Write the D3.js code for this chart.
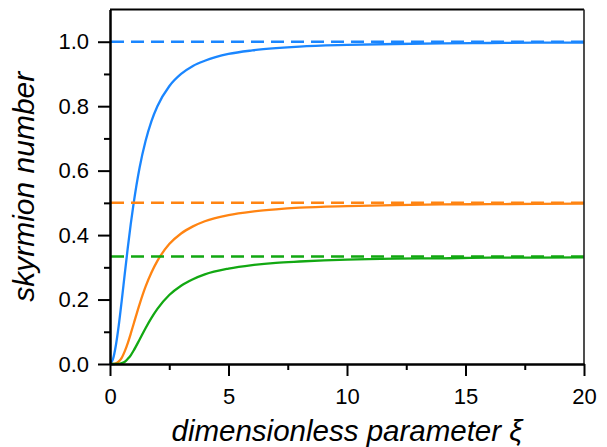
<!DOCTYPE html>
<html>
<head>
<meta charset="utf-8">
<script src="https://cdn.jsdelivr.net/npm/d3@7"></script>
<style>
  html, body { margin: 0; padding: 0; background: #fff; }
  svg { display: block; }
  text { font-family: "Liberation Sans", Arial, sans-serif; }
</style>
</head>
<body>
<svg id="chart" width="607" height="447"></svg>
<script>
// ---- data ----
const xi = [0, 0.125, 0.25, 0.375, 0.5, 0.625, 0.75, 0.875, 1, 1.25, 1.5, 1.75, 2, 2.5, 3, 3.5, 4, 5, 6, 7, 8, 10, 12, 14, 16, 18, 20];
const blueVals   = [0, 0.015, 0.059, 0.123, 0.200, 0.281, 0.360, 0.434, 0.500, 0.610, 0.692, 0.754, 0.800, 0.862, 0.900, 0.925, 0.941, 0.962, 0.973, 0.980, 0.985, 0.990, 0.993, 0.995, 0.996, 0.997, 0.9975];
const orangeVals = [0, 0.0001, 0.002, 0.008, 0.020, 0.040, 0.065, 0.094, 0.125, 0.186, 0.240, 0.284, 0.320, 0.372, 0.405, 0.427, 0.443, 0.462, 0.473, 0.480, 0.485, 0.490, 0.493, 0.495, 0.496, 0.497, 0.4975];
const greenVals  = [0, 0, 0.0001, 0.0006, 0.003, 0.007, 0.016, 0.027, 0.042, 0.076, 0.111, 0.143, 0.171, 0.214, 0.243, 0.263, 0.278, 0.296, 0.307, 0.314, 0.318, 0.324, 0.327, 0.328, 0.330, 0.330, 0.331];
const limits = [1.0, 0.5, 1/3];
const seriesColors = ["#1a86ff", "#ff8412", "#12a812"];
const xTicks = [0, 5, 10, 15, 20];
const xMinorTicks = [2.5, 7.5, 12.5, 17.5];
const yTicks = [0.0, 0.2, 0.4, 0.6, 0.8, 1.0];
const yMinorTicks = [0.1, 0.3, 0.5, 0.7, 0.9];
const xLabel = "dimensionless parameter ξ";
const yLabel = "skyrmion number";

// ---- layout ----
const svg = d3.select("#chart");
const W = 607, H = 447;
const m = { left: 110, right: 23, top: 9.5, bottom: 83 };

const x = d3.scaleLinear().domain([0, 20]).range([m.left, W - m.right]);
const y = d3.scaleLinear().domain([0, 1.1]).range([H - m.bottom, m.top]);

const series = [blueVals, orangeVals, greenVals];

// curves
const line = d3.line()
  .x((d, i) => x(xi[i]))
  .y(d => y(d))
  .curve(d3.curveMonotoneX);

series.forEach((vals, k) => {
  svg.append("path")
    .attr("d", line(vals))
    .attr("fill", "none")
    .attr("stroke", seriesColors[k])
    .attr("stroke-width", 2.3);
});

// dashed limit lines
limits.forEach((v, k) => {
  svg.append("line")
    .attr("x1", x(0) + 1).attr("x2", x(20))
    .attr("y1", y(v)).attr("y2", y(v))
    .attr("stroke", seriesColors[k])
    .attr("stroke-width", 2.5)
    .attr("stroke-dasharray", "13,7");
});

// frame (top & right)
svg.append("line").attr("x1", x(0)).attr("x2", x(20)).attr("y1", y(1.1)).attr("y2", y(1.1))
  .attr("stroke", "#000").attr("stroke-width", 2);
svg.append("line").attr("x1", x(20)).attr("x2", x(20)).attr("y1", y(1.1)).attr("y2", y(0))
  .attr("stroke", "#222").attr("stroke-width", 1.6);

// axes
const fmtY = d3.format(".1f");
const gx = svg.append("g").attr("transform", `translate(0,${y(0)})`)
  .call(d3.axisBottom(x).tickValues(xTicks).tickSize(12).tickSizeOuter(0).tickPadding(12).tickFormat(d3.format("d")));
const gxm = svg.append("g").attr("transform", `translate(0,${y(0)})`)
  .call(d3.axisBottom(x).tickValues(xMinorTicks).tickSize(6).tickSizeOuter(0).tickFormat(""));
const gy = svg.append("g").attr("transform", `translate(${x(0)},0)`)
  .call(d3.axisLeft(y).tickValues(yTicks).tickSize(12).tickSizeOuter(0).tickPadding(9).tickFormat(fmtY));
const gym = svg.append("g").attr("transform", `translate(${x(0)},0)`)
  .call(d3.axisLeft(y).tickValues(yMinorTicks).tickSize(6).tickSizeOuter(0).tickFormat(""));

[gx, gxm, gy, gym].forEach(g => {
  g.select(".domain").attr("stroke", "#000").attr("stroke-width", 2);
  g.selectAll(".tick line").attr("stroke", "#000").attr("stroke-width", 2);
  g.selectAll(".tick text").attr("fill", "#000").style("font-size", "22px")
    .style("font-family", "'Liberation Sans', Arial, sans-serif");
});

// axis titles
svg.append("text")
  .attr("x", x(10)).attr("y", 441)
  .attr("text-anchor", "middle")
  .style("font-size", "29.5px").style("font-style", "italic")
  .attr("fill", "#000")
  .text(xLabel);

svg.append("text")
  .attr("transform", `translate(34,${(y(0) + y(1.1)) / 2}) rotate(-90)`)
  .attr("text-anchor", "middle")
  .style("font-size", "30px").style("font-style", "italic")
  .attr("fill", "#000")
  .text(yLabel);
</script>
</body>
</html>
